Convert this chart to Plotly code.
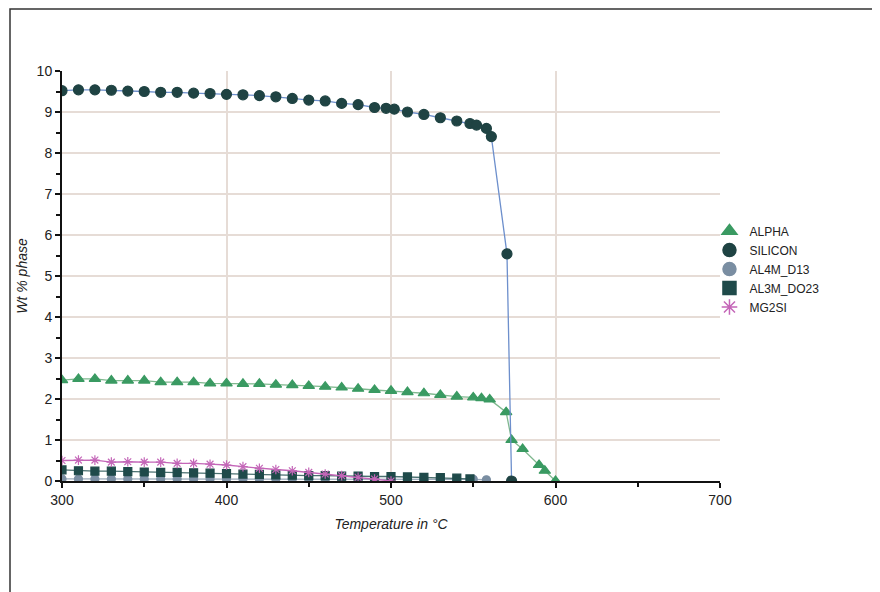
import plotly.graph_objects as go

# ---------------- data ----------------
si_T = [300, 310, 320, 330, 340, 350, 360, 370, 380, 390, 400, 410, 420, 430, 440, 450,
        460, 470, 480, 490, 497, 502, 510, 520, 530, 540, 548, 552, 558, 561, 570.5, 573.3]
si_v = [9.52, 9.54, 9.54, 9.53, 9.51, 9.50, 9.48, 9.48, 9.46, 9.45, 9.43, 9.42, 9.40, 9.37,
        9.33, 9.29, 9.27, 9.21, 9.18, 9.11, 9.09, 9.07, 9.00, 8.94, 8.86, 8.78, 8.72, 8.68,
        8.60, 8.40, 5.54, 0.0]

alpha_T = [300, 310, 320, 330, 340, 350, 360, 370, 380, 390, 400, 410, 420, 430, 440, 450,
           460, 470, 480, 490, 500, 510, 520, 530, 540, 550, 555, 560, 570, 573.3, 580, 590,
           593.5, 600]
alpha_v = [2.46, 2.49, 2.49, 2.45, 2.45, 2.45, 2.41, 2.41, 2.41, 2.38, 2.38, 2.37, 2.37,
           2.35, 2.34, 2.32, 2.30, 2.28, 2.25, 2.22, 2.20, 2.17, 2.14, 2.10, 2.06, 2.04,
           2.02, 1.99, 1.68, 1.00, 0.78, 0.39, 0.25, 0.0]

al4_T = [300, 310, 320, 330, 340, 350, 360, 370, 380, 390, 400, 410, 420, 430, 440, 450,
         460, 470, 480, 490, 500, 510, 520, 530, 540, 550, 558]
al4_v = [0.05, 0.05, 0.05, 0.05, 0.05, 0.05, 0.05, 0.05, 0.05, 0.05, 0.05, 0.05, 0.05,
         0.05, 0.05, 0.05, 0.05, 0.05, 0.05, 0.05, 0.04, 0.04, 0.04, 0.04, 0.04, 0.04, 0.03]

al3_T = [300, 310, 320, 330, 340, 350, 360, 370, 380, 390, 400, 410, 420, 430, 440, 450,
         460, 470, 480, 490, 500, 510, 520, 530, 540, 548]
al3_v = [0.27, 0.25, 0.24, 0.24, 0.23, 0.22, 0.21, 0.21, 0.20, 0.19, 0.18, 0.17, 0.16,
         0.15, 0.14, 0.13, 0.13, 0.12, 0.12, 0.11, 0.11, 0.10, 0.09, 0.08, 0.07, 0.05]

mg_T = [300, 310, 320, 330, 340, 350, 360, 370, 380, 390, 400, 410, 420, 430, 440, 450,
        460, 470, 480, 490, 500]
mg_v = [0.50, 0.51, 0.51, 0.46, 0.47, 0.46, 0.46, 0.43, 0.43, 0.41, 0.39, 0.35, 0.31,
        0.28, 0.25, 0.21, 0.17, 0.13, 0.09, 0.05, 0.0]

x_ticks = [300, 400, 500, 600, 700]
y_ticks = list(range(0, 11))

series = [
    # name, T, values, line colour, marker symbol, marker colour, marker size
    ("ALPHA", alpha_T, alpha_v, "#7fb88e", "triangle-up", "#3a9a62", 10),
    ("SILICON", si_T, si_v, "#6d8fcc", "circle", "#1f4343", 10),
    ("AL4M_D13", al4_T, al4_v, "#9aaabb", "circle", "#7a8ea2", 8),
    ("AL3M_DO23", al3_T, al3_v, "#4a7070", "square", "#1f4a4a", 8),
    ("MG2SI", mg_T, mg_v, "#c466b8", "asterisk", "#c466b8", 8),
]

# ---------------- figure ----------------
fig = go.Figure()

for name, T, v, lc, sym, mc, ms in series:
    fig.add_trace(go.Scatter(
        x=T, y=v, name=name, mode="lines+markers", showlegend=False,
        line=dict(color=lc, width=1.3),
        marker=dict(symbol=sym, size=ms, color=mc, line=dict(color=mc, width=1.2)),
    ))

# legend entries (markers only, as in the reference)
for name, T, v, lc, sym, mc, ms in series:
    fig.add_trace(go.Scatter(
        x=[None], y=[None], name=name, mode="markers", showlegend=True,
        marker=dict(symbol=sym, size=13, color=mc, line=dict(color=mc, width=1.5)),
    ))

# outer frame
fig.add_shape(type="rect", xref="paper", yref="paper",
              x0=(10 - 62) / 658, x1=(876 - 62) / 658,
              y0=(481 - 600) / 410, y1=(481 - 9) / 410,
              line=dict(color="#333333", width=1.5), fillcolor="rgba(0,0,0,0)", layer="below")

fig.update_layout(
    width=880, height=592,
    margin=dict(l=54, r=168, t=63, b=119),
    paper_bgcolor="white", plot_bgcolor="white",
    font=dict(family="Liberation Sans, Arial, sans-serif", size=13, color="#222222"),
    showlegend=True,
    legend=dict(x=0.984, y=0.645, xanchor="left", yanchor="top",
                font=dict(size=12, color="#222222"),
                bgcolor="rgba(0,0,0,0)", tracegroupgap=0, itemwidth=30),
    xaxis=dict(
        range=[300, 700], tickvals=x_ticks, ticktext=[str(v) for v in x_ticks],
        showgrid=True, gridcolor="#e6dcd6", gridwidth=1.5,
        showline=True, linecolor="#111111", linewidth=2,
        ticks="outside", ticklen=5, tickcolor="#111111", tickwidth=1.5,
        tickfont=dict(size=14),
        minor=dict(dtick=50, ticks="outside", ticklen=4, tickcolor="#111111", showgrid=False),
        zeroline=False,
        title=dict(text="<i>Temperature in °C</i>", font=dict(size=14), standoff=12),
    ),
    yaxis=dict(
        range=[0, 10], tickvals=y_ticks,
        showgrid=True, gridcolor="#e6dcd6", gridwidth=1.5,
        showline=True, linecolor="#111111", linewidth=2,
        ticks="outside", ticklen=5, tickcolor="#111111", tickwidth=1.5,
        tickfont=dict(size=14),
        minor=dict(dtick=0.5, ticks="outside", ticklen=4, tickcolor="#111111", showgrid=False),
        zeroline=False,
        title=dict(text="<i>Wt % phase</i>", font=dict(size=14), standoff=6),
    ),
)

fig.write_html("out.html")
